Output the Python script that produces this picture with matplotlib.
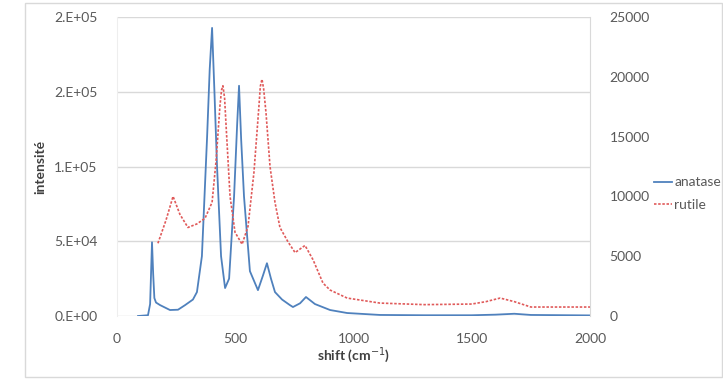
import matplotlib
matplotlib.use('Agg')
import matplotlib.pyplot as plt
from matplotlib.ticker import FuncFormatter
from matplotlib.patches import Rectangle

plt.rcParams['font.family'] = ['Lato', 'DejaVu Sans']

# anatase spectrum (left axis)
anatase_shift = [89, 131, 140, 148, 153, 158, 165, 182, 224, 258, 288, 321, 338, 359, 381, 392,
                 402, 412, 423, 440, 457, 474, 495, 508, 516, 525, 537, 562, 596, 617, 634, 651,
                 668, 698, 731, 744, 774, 799, 837, 901, 973, 1112, 1300, 1500, 1600, 1680,
                 1750, 2000]
anatase_int = [0, 500, 8000, 49300, 28000, 12000, 9000, 7300, 4000, 4200, 7300, 11000, 16000,
               40000, 120000, 165000, 192700, 150000, 100000, 40000, 18700, 25000, 80000,
               128000, 154000, 118000, 80000, 30000, 17300, 27000, 35300, 25000, 16000, 11000,
               7300, 6000, 8500, 12700, 8000, 4000, 2000, 700, 500, 500, 900, 1500, 700, 400]

# rutile spectrum (right axis)
rutile_shift = [173, 207, 237, 266, 300, 338, 372, 402, 419, 435, 442, 448, 455, 461, 478, 499,
                529, 554, 579, 600, 606, 613, 620, 630, 647, 668, 689, 723, 753, 795, 829, 871,
                901, 973, 1112, 1300, 1500, 1560, 1620, 1680, 1750, 2000]
rutile_int = [6080, 8000, 10000, 8500, 7400, 7700, 8170, 9500, 13000, 17500, 18900, 19250, 18200,
              16000, 10000, 7000, 6000, 7500, 12000, 17500, 19200, 19800, 19000, 17000, 12500,
              9500, 7400, 6200, 5300, 5900, 4700, 2750, 2170, 1500, 1080, 950, 1000, 1200, 1500,
              1200, 750, 750]

left_ticks = [0, 50000, 100000, 150000, 200000]
right_ticks = [0, 5000, 10000, 15000, 20000, 25000]
x_ticks = [0, 500, 1000, 1500, 2000]


def excel_sci(v, pos):
    if v == 0:
        return '0.E+00'
    exp = len(str(int(abs(v)))) - 1
    mant = round(v / 10 ** exp)
    return f'{mant:.0f}.E+{exp:02d}'


fig = plt.figure(figsize=(7.23, 3.79), dpi=100)
fig.patches.append(Rectangle((25 / 723, 2 / 379), 697 / 723, 374 / 379, transform=fig.transFigure,
                             fill=False, edgecolor='#d9d9d9', linewidth=1))
ax = fig.add_axes([117 / 723, 1 - 316 / 379, 473 / 723, 299 / 379])
ax2 = ax.twinx()

l1, = ax.plot(anatase_shift, anatase_int, color='#4f81bd', linewidth=1.3, label='anatase')
l2, = ax2.plot(rutile_shift, rutile_int, color='#e05a5a', linewidth=1.2,
               linestyle=(0, (1.5, 1)), label='rutile')

ax.set_xlim(0, 2000)
ax.set_ylim(0, 200000)
ax2.set_ylim(0, 25000)
ax.set_xticks(x_ticks)
ax.set_yticks(left_ticks)
ax2.set_yticks(right_ticks)
ax.yaxis.set_major_formatter(FuncFormatter(excel_sci))

ax.grid(axis='y', color='#d9d9d9', linewidth=1)
ax.set_axisbelow(True)
for a in (ax, ax2):
    for s in a.spines.values():
        s.set_visible(False)
ax2.spines['right'].set_visible(True)
ax2.spines['right'].set_color('#d9d9d9')
ax.spines['left'].set_visible(True)
ax.spines['left'].set_color('#eeeeee')

ax.tick_params(axis='y', length=0, labelsize=10, labelcolor='#595959', pad=14)
ax.tick_params(axis='x', length=0, labelsize=10, labelcolor='#595959', pad=12)
ax2.tick_params(axis='y', length=0, labelsize=10, labelcolor='#595959', pad=14)

ax.set_xlabel('shift (cm$^{-1}$)', fontsize=10, fontweight='bold', color='#404040', labelpad=0)
ax.set_ylabel('intensité', fontsize=10, fontweight='bold', color='#404040', labelpad=6)

fig.legend(handles=[l1, l2], loc='upper left', bbox_to_anchor=(641 / 723, 1 - 164 / 379),
           frameon=False, fontsize=10, handlelength=1.3, handletextpad=0.2,
           labelspacing=0.75, labelcolor='#595959')

fig.savefig('out.png', dpi=100)
